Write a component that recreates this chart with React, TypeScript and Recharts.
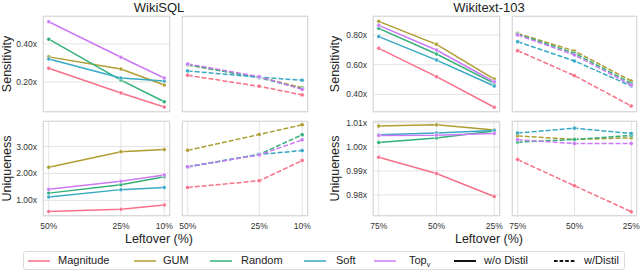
import React from "react";
import {
  LineChart,
  Line,
  XAxis,
  YAxis,
  CartesianGrid,
} from "recharts";

const FONT = '"Liberation Sans", Arial, Helvetica, sans-serif';

const methods = ["Magnitude", "GUM", "Random", "Soft", "Top"];
const methodColors = ["#f77189", "#ae9d31", "#33b07a", "#38a9c5", "#cc7af4"];

// leftover percentages (x axis)
const sqlLeftover = [50, 25, 10];
const wikiLeftover = [75, 50, 25];

// WikiSQL, rows follow `methods`
const sqlSensPlain = [
  [0.272, 0.142, 0.068],
  [0.332, 0.268, 0.184],
  [0.425, 0.21, 0.096],
  [0.321, 0.221, 0.205],
  [0.517, 0.33, 0.221],
];
const sqlSensDistil = [
  [0.235, 0.177, 0.132],
  [0.29, 0.225, 0.17],
  [0.29, 0.222, 0.165],
  [0.258, 0.225, 0.209],
  [0.295, 0.228, 0.161],
];
const sqlUniqPlain = [
  [0.59, 0.67, 0.83],
  [2.23, 2.81, 2.89],
  [1.27, 1.58, 1.88],
  [1.13, 1.4, 1.48],
  [1.41, 1.71, 1.94],
];
const sqlUniqDistil = [
  [1.48, 1.73, 2.48],
  [2.86, 3.45, 3.81],
  [2.25, 2.71, 3.44],
  [2.24, 2.71, 2.85],
  [2.25, 2.69, 3.25],
];

// Wikitext-103
const wikiSensPlain = [
  [0.71, 0.519, 0.313],
  [0.892, 0.737, 0.503],
  [0.845, 0.672, 0.474],
  [0.789, 0.631, 0.456],
  [0.865, 0.699, 0.485],
];
const wikiSensDistil = [
  [0.694, 0.526, 0.321],
  [0.811, 0.692, 0.49],
  [0.806, 0.677, 0.474],
  [0.755, 0.625, 0.456],
  [0.8, 0.665, 0.463],
];
const wikiUniqPlain = [
  [0.9957, 0.9889, 0.9793],
  [1.0087, 1.0092, 1.007],
  [1.0018, 1.0037, 1.0066],
  [1.0051, 1.0058, 1.0068],
  [1.0048, 1.0049, 1.0056],
];
const wikiUniqDistil = [
  [0.9947, 0.9838, 0.973],
  [1.0046, 1.0031, 1.0038],
  [1.002, 1.0031, 1.0048],
  [1.0058, 1.0078, 1.0056],
  [1.003, 1.0014, 1.0014],
];

// tick values
const sqlSensTicks = [0.2, 0.4];
const sqlUniqTicks = [1, 2, 3];
const wikiSensTicks = [0.4, 0.6, 0.8];
const wikiUniqTicks = [0.98, 0.99, 1.0, 1.01];

function toRows(xs: number[], series: number[][]) {
  return xs.map((x, i) => {
    const row: { [k: string]: number } = { x };
    methods.forEach((m, j) => {
      row[m] = series[j][i];
    });
    return row;
  });
}

// extra room around every chart so tick labels at the edges are not clipped
const PAD = 12;

interface PanelProps {
  plotLeft: number;
  plotTop: number;
  plotW: number;
  plotH: number;
  yAxisWidth: number;
  xs: number[];
  xDomain: [number, number];
  series: number[][];
  yTicks: number[];
  yDomain: [number, number];
  dashed: boolean;
  showX: boolean;
  yLabel?: string;
  labelOffset?: number;
}

function Panel({
  plotLeft,
  plotTop,
  plotW,
  plotH,
  yAxisWidth,
  xs,
  xDomain,
  series,
  yTicks,
  yDomain,
  dashed,
  showX,
  yLabel,
  labelOffset = 7,
}: PanelProps) {
  const xAxisHeight = showX ? 20 : 0;
  const width = plotW + yAxisWidth + 2 * PAD;
  const height = plotH + xAxisHeight + 2 * PAD;
  const tickStyle = { fontSize: 8.5, fill: "#333", fontFamily: FONT };
  return (
    <>
      <div
        style={{
          position: "absolute",
          left: plotLeft - yAxisWidth - PAD,
          top: plotTop - PAD,
          width,
          height,
        }}
      >
        <LineChart
          width={width}
          height={height}
          data={toRows(xs, series)}
          margin={{ top: PAD, right: PAD, bottom: PAD, left: PAD }}
        >
          <CartesianGrid stroke="#e3e3e3" strokeWidth={1} />
          <XAxis
            dataKey="x"
            type="number"
            domain={xDomain}
            reversed
            ticks={xs}
            allowDataOverflow
            height={xAxisHeight}
            tick={showX ? tickStyle : false}
            tickFormatter={(v: number) => `${v}%`}
            axisLine={false}
            tickLine={false}
            tickSize={6}
            tickMargin={1}
            interval={0}
          />
          <YAxis
            type="number"
            domain={yDomain}
            ticks={yTicks}
            allowDataOverflow
            width={yAxisWidth}
            tick={yAxisWidth > 0 ? tickStyle : false}
            tickFormatter={(v: number) => `${v.toFixed(2)}x`}
            axisLine={false}
            tickLine={false}
            tickSize={4}
            tickMargin={2}
            interval={0}
            label={
              yLabel
                ? {
                    value: yLabel,
                    angle: -90,
                    position: "insideLeft",
                    offset: labelOffset,
                    style: {
                      textAnchor: "middle",
                      fontSize: 12.5,
                      fill: "#222",
                      fontFamily: FONT,
                    },
                  }
                : undefined
            }
          />
          {methods.map((m, j) => (
            <Line
              key={m}
              dataKey={m}
              stroke={methodColors[j]}
              strokeWidth={1.5}
              strokeDasharray={dashed ? "5 2" : undefined}
              dot={{ r: 2, fill: methodColors[j], stroke: "#fff", strokeWidth: 0.5 }}
              isAnimationActive={false}
            />
          ))}
        </LineChart>
      </div>
      <div
        style={{
          position: "absolute",
          left: plotLeft,
          top: plotTop,
          width: plotW,
          height: plotH,
          border: "1px solid #dadada",
          boxSizing: "border-box",
          pointerEvents: "none",
        }}
      />
    </>
  );
}

const legendItems = [
  { name: "Magnitude", color: methodColors[0], dash: "", lineX: 27, textX: 57 },
  { name: "GUM", color: methodColors[1], dash: "", lineX: 133, textX: 162 },
  { name: "Random", color: methodColors[2], dash: "", lineX: 209, textX: 240 },
  { name: "Soft", color: methodColors[3], dash: "", lineX: 303, textX: 335 },
  { name: "Top", color: methodColors[4], dash: "", lineX: 373, textX: 408 },
  { name: "w/o Distil", color: "#111", dash: "", lineX: 453, textX: 483 },
  { name: "w/Distil", color: "#111", dash: "3.6 2", lineX: 553, textX: 583 },
];

function Legend() {
  return (
    <div
      style={{
        position: "absolute",
        left: 23,
        top: 251,
        width: 602,
        height: 19,
        border: "1px solid #dcdcdc",
        borderRadius: 3,
        boxSizing: "border-box",
        fontFamily: FONT,
        fontSize: 11,
        color: "#222",
      }}
    >
      {legendItems.map((it) => (
        <React.Fragment key={it.name}>
          <svg
            width={22}
            height={4}
            style={{ position: "absolute", left: it.lineX - 23, top: 6.5 }}
          >
            <line
              x1={0}
              y1={2}
              x2={22}
              y2={2}
              stroke={it.color}
              strokeWidth={it.color === "#111" ? 2 : 1.5}
              strokeDasharray={it.dash || undefined}
            />
          </svg>
          <div
            style={{
              position: "absolute",
              left: it.textX - 23,
              top: 2,
              lineHeight: "13px",
              whiteSpace: "nowrap",
            }}
          >
            {it.name}
            {it.name === "Top" ? <sub style={{ fontSize: 7 }}>v</sub> : null}
          </div>
        </React.Fragment>
      ))}
    </div>
  );
}

function CenteredText({ x, y, text, size }: { x: number; y: number; text: string; size: number }) {
  return (
    <div
      style={{
        position: "absolute",
        left: x - 100,
        top: y - size / 2,
        width: 200,
        textAlign: "center",
        fontSize: size,
        lineHeight: `${size}px`,
        fontFamily: FONT,
        color: "#222",
        whiteSpace: "nowrap",
      }}
    >
      {text}
    </div>
  );
}

export default function App() {
  const sqlX: [number, number] = [8, 52];
  const wikiX: [number, number] = [22.5, 77.5];
  const sqlSensDom: [number, number] = [0.042, 0.547];
  const sqlUniqDom: [number, number] = [0.42, 3.95];
  const wikiSensDom: [number, number] = [0.281, 0.928];
  const wikiUniqDom: [number, number] = [0.9712, 1.0108];
  return (
    <div
      style={{
        position: "absolute",
        left: 0,
        top: 0,
        width: 640,
        height: 271,
        background: "#fff",
        overflow: "hidden",
      }}
    >
      <CenteredText x={159} y={7} text="WikiSQL" size={13} />
      <CenteredText x={489} y={7} text="Wikitext-103" size={13} />

      {/* WikiSQL */}
      <Panel plotLeft={43} plotTop={16} plotW={127} plotH={96} yAxisWidth={43} xs={sqlLeftover} xDomain={sqlX}
        series={sqlSensPlain} yTicks={sqlSensTicks} yDomain={sqlSensDom} dashed={false} showX={false}
        yLabel="Sensitivity" labelOffset={7} />
      <Panel plotLeft={182} plotTop={16} plotW={126} plotH={96} yAxisWidth={0} xs={sqlLeftover} xDomain={sqlX}
        series={sqlSensDistil} yTicks={sqlSensTicks} yDomain={sqlSensDom} dashed showX={false} />
      <Panel plotLeft={43} plotTop={121} plotW={127} plotH={95} yAxisWidth={43} xs={sqlLeftover} xDomain={sqlX}
        series={sqlUniqPlain} yTicks={sqlUniqTicks} yDomain={sqlUniqDom} dashed={false} showX
        yLabel="Uniqueness" labelOffset={7} />
      <Panel plotLeft={182} plotTop={121} plotW={126} plotH={95} yAxisWidth={0} xs={sqlLeftover} xDomain={sqlX}
        series={sqlUniqDistil} yTicks={sqlUniqTicks} yDomain={sqlUniqDom} dashed showX />

      {/* Wikitext-103 */}
      <Panel plotLeft={373} plotTop={16} plotW={127} plotH={96} yAxisWidth={47} xs={wikiLeftover} xDomain={wikiX}
        series={wikiSensPlain} yTicks={wikiSensTicks} yDomain={wikiSensDom} dashed={false} showX={false}
        yLabel="Sensitivity" labelOffset={9} />
      <Panel plotLeft={512} plotTop={16} plotW={125} plotH={96} yAxisWidth={0} xs={wikiLeftover} xDomain={wikiX}
        series={wikiSensDistil} yTicks={wikiSensTicks} yDomain={wikiSensDom} dashed showX={false} />
      <Panel plotLeft={373} plotTop={121} plotW={127} plotH={95} yAxisWidth={47} xs={wikiLeftover} xDomain={wikiX}
        series={wikiUniqPlain} yTicks={wikiUniqTicks} yDomain={wikiUniqDom} dashed={false} showX
        yLabel="Uniqueness" labelOffset={9} />
      <Panel plotLeft={512} plotTop={121} plotW={125} plotH={95} yAxisWidth={0} xs={wikiLeftover} xDomain={wikiX}
        series={wikiUniqDistil} yTicks={wikiUniqTicks} yDomain={wikiUniqDom} dashed showX />

      <CenteredText x={159} y={239} text="Leftover (%)" size={12.5} />
      <CenteredText x={489} y={239} text="Leftover (%)" size={12.5} />

      <Legend />
    </div>
  );
}
